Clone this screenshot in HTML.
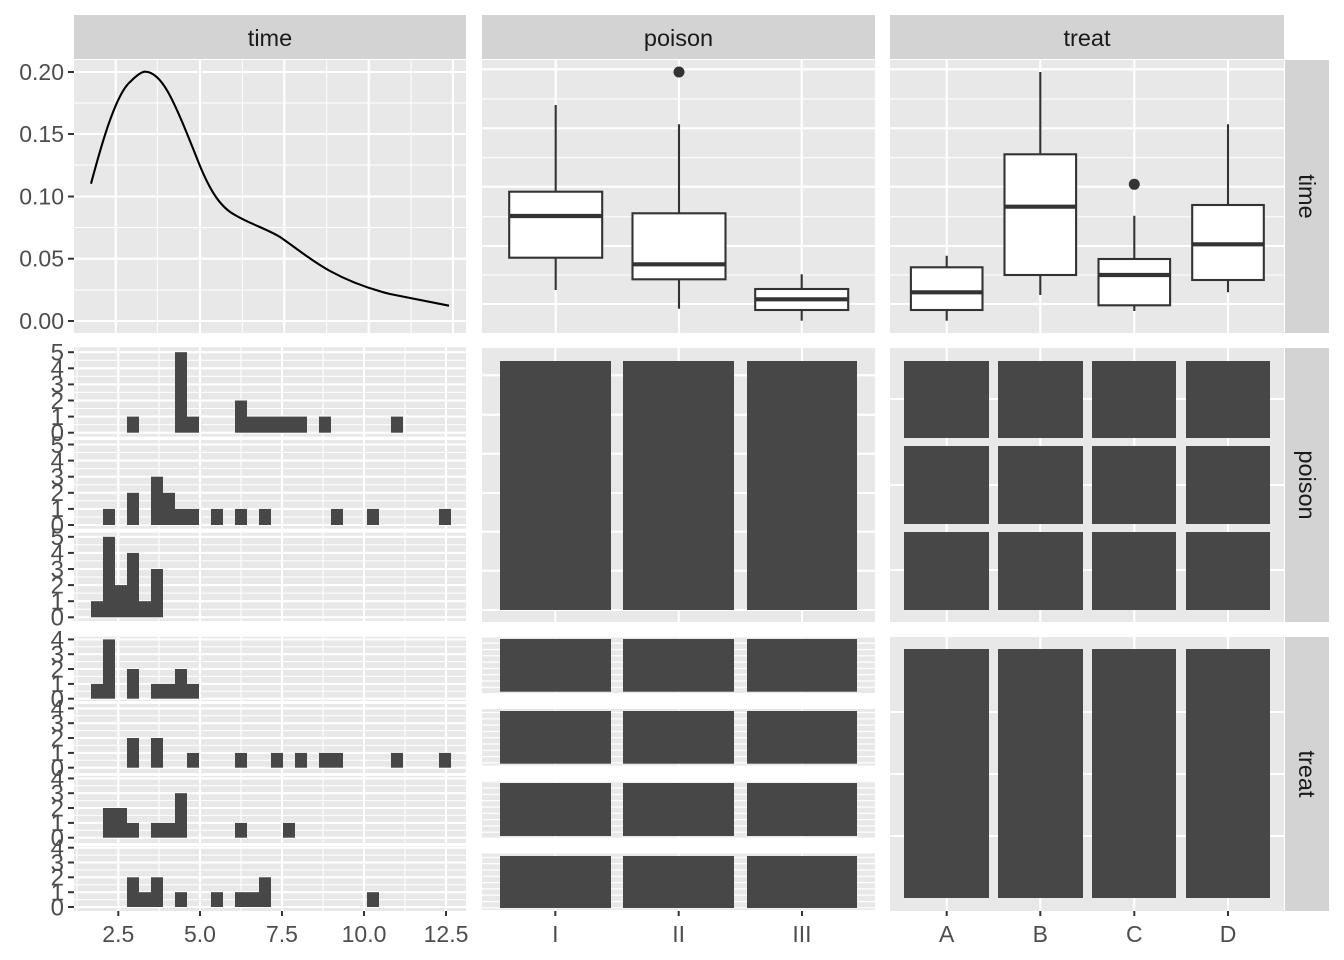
<!DOCTYPE html>
<html><head><meta charset="utf-8"><style>
html,body{margin:0;padding:0;background:#fff;}
svg{display:block;font-family:"Liberation Sans",sans-serif;}
.tk{font-size:23px;fill:#4d4d4d;}
.st{font-size:23.5px;fill:#1a1a1a;}
.bg{fill:#e8e8e8;}
.sp{fill:#d3d3d3;}
.mj{stroke:#fff;stroke-width:2.1;}
.mn{stroke:#fff;stroke-width:1;}
.bar{fill:#474747;}
.tick{stroke:#333;stroke-width:2;}
.box{fill:#fff;stroke:#333;stroke-width:2.1;}
.wh{stroke:#333;stroke-width:2.1;}
.md{stroke:#333;stroke-width:4.2;}
</style></head><body>
<svg width="1344" height="960" viewBox="0 0 1344 960">
<defs>
<pattern id="stripes" x="0" y="0" width="10" height="6.3" patternUnits="userSpaceOnUse">
<rect width="10" height="6.3" fill="#e8e8e8"/><rect y="0" width="10" height="1.2" fill="#fff"/>
</pattern>
</defs>
<rect class="sp" x="74" y="15" width="392" height="44"/>
<rect class="sp" x="482" y="15" width="393" height="44"/>
<rect class="sp" x="890" y="15" width="394" height="44"/>
<text class="st" x="270" y="46" text-anchor="middle">time</text>
<text class="st" x="678.5" y="46" text-anchor="middle">poison</text>
<text class="st" x="1087" y="46" text-anchor="middle">treat</text>
<rect class="sp" x="1285" y="60" width="44" height="273"/>
<rect class="sp" x="1285" y="348" width="44" height="274"/>
<rect class="sp" x="1285" y="637" width="44" height="274"/>
<text class="st" transform="translate(1299,196.5) rotate(90)" text-anchor="middle">time</text>
<text class="st" transform="translate(1299,485) rotate(90)" text-anchor="middle">poison</text>
<text class="st" transform="translate(1299,774) rotate(90)" text-anchor="middle">treat</text>

<rect class="bg" x="74" y="60" width="392" height="273"/>
<g class="mn">
<line x1="74" x2="466" y1="290" y2="290"/><line x1="74" x2="466" y1="227.5" y2="227.5"/><line x1="74" x2="466" y1="165" y2="165"/><line x1="74" x2="466" y1="103" y2="103"/>
<line x1="157.3" x2="157.3" y1="60" y2="333"/><line x1="242.3" x2="242.3" y1="60" y2="333"/><line x1="326.7" x2="326.7" y1="60" y2="333"/><line x1="411" x2="411" y1="60" y2="333"/>
</g>
<g class="mj">
<line x1="74" x2="466" y1="321" y2="321"/><line x1="74" x2="466" y1="258.7" y2="258.7"/><line x1="74" x2="466" y1="196.5" y2="196.5"/><line x1="74" x2="466" y1="134" y2="134"/><line x1="74" x2="466" y1="72" y2="72"/>
<line x1="115.7" x2="115.7" y1="60" y2="333"/><line x1="200" x2="200" y1="60" y2="333"/><line x1="284.3" x2="284.3" y1="60" y2="333"/><line x1="368.7" x2="368.7" y1="60" y2="333"/><line x1="453" x2="453" y1="60" y2="333"/>
</g>
<path fill="none" stroke="#000" stroke-width="2.1" stroke-linejoin="round" d="M91,183.7 C100,150 115,95 130,82 C138,74 142,71.7 145,71.7 C152,71.7 160,78 168,92 C178,110 188,136 200,166 C210,190 220,207 235,215 C250,224 265,228 280,237 C295,247 310,260 330,271 C350,282 370,289 390,294 C410,298 430,302 449,305.7"/>
<g class="tick"><line x1="68" x2="74" y1="321" y2="321"/><line x1="68" x2="74" y1="258.7" y2="258.7"/><line x1="68" x2="74" y1="196.5" y2="196.5"/><line x1="68" x2="74" y1="134" y2="134"/><line x1="68" x2="74" y1="72" y2="72"/></g>
<g class="tk" text-anchor="end">
<text x="64" y="329">0.00</text><text x="64" y="266.7">0.05</text><text x="64" y="204.5">0.10</text><text x="64" y="142">0.15</text><text x="64" y="80">0.20</text>
</g>

<rect class="bg" x="482" y="60" width="393" height="273"/>
<g class="mn"><line x1="482" x2="875" y1="99" y2="99"/><line x1="482" x2="875" y1="157.7" y2="157.7"/><line x1="482" x2="875" y1="216.7" y2="216.7"/><line x1="482" x2="875" y1="275" y2="275"/></g>
<g class="mj"><line x1="482" x2="875" y1="69.3" y2="69.3"/><line x1="482" x2="875" y1="128.3" y2="128.3"/><line x1="482" x2="875" y1="186.7" y2="186.7"/><line x1="482" x2="875" y1="246" y2="246"/><line x1="482" x2="875" y1="304" y2="304"/>
<line x1="555.7" x2="555.7" y1="60" y2="333"/><line x1="679" x2="679" y1="60" y2="333"/><line x1="801.7" x2="801.7" y1="60" y2="333"/></g>
<g class="wh"><line x1="555.7" x2="555.7" y1="105" y2="290"/><line x1="679" x2="679" y1="124.3" y2="308.7"/><line x1="801.7" x2="801.7" y1="274.3" y2="320.7"/></g>
<rect class="box" x="509.2" y="191.7" width="93" height="66"/>
<rect class="box" x="632.5" y="213.3" width="93" height="66"/>
<rect class="box" x="755.2" y="289" width="93" height="21"/>
<g class="md"><line x1="509.2" x2="602.2" y1="216" y2="216"/><line x1="632.5" x2="725.5" y1="264.3" y2="264.3"/><line x1="755.2" x2="848.2" y1="299.3" y2="299.3"/></g>
<circle cx="679" cy="72" r="5.5" fill="#333"/>

<rect class="bg" x="890" y="60" width="394" height="273"/>
<g class="mn"><line x1="890" x2="1284" y1="99" y2="99"/><line x1="890" x2="1284" y1="157.7" y2="157.7"/><line x1="890" x2="1284" y1="216.7" y2="216.7"/><line x1="890" x2="1284" y1="275" y2="275"/></g>
<g class="mj"><line x1="890" x2="1284" y1="69.3" y2="69.3"/><line x1="890" x2="1284" y1="128.3" y2="128.3"/><line x1="890" x2="1284" y1="186.7" y2="186.7"/><line x1="890" x2="1284" y1="246" y2="246"/><line x1="890" x2="1284" y1="304" y2="304"/>
<line x1="946.7" x2="946.7" y1="60" y2="333"/><line x1="1040.3" x2="1040.3" y1="60" y2="333"/><line x1="1134.3" x2="1134.3" y1="60" y2="333"/><line x1="1228" x2="1228" y1="60" y2="333"/></g>
<g class="wh"><line x1="946.7" x2="946.7" y1="255.7" y2="320.7"/><line x1="1040.3" x2="1040.3" y1="72" y2="295"/><line x1="1134.3" x2="1134.3" y1="215.7" y2="311"/><line x1="1228" x2="1228" y1="124.3" y2="292.3"/></g>
<rect class="box" x="910.9" y="267.3" width="71.6" height="42.7"/>
<rect class="box" x="1004.5" y="154.3" width="71.6" height="120.7"/>
<rect class="box" x="1098.5" y="259" width="71.6" height="46.3"/>
<rect class="box" x="1192.2" y="205" width="71.6" height="75"/>
<g class="md"><line x1="910.9" x2="982.5" y1="292.3" y2="292.3"/><line x1="1004.5" x2="1076.1" y1="206.7" y2="206.7"/><line x1="1098.5" x2="1170.1" y1="275" y2="275"/><line x1="1192.2" x2="1263.8" y1="244.3" y2="244.3"/></g>
<circle cx="1134.3" cy="184.3" r="5.5" fill="#333"/>

<rect class="bg" x="74" y="347.3" width="392" height="89.4"/>
<rect class="bg" x="74" y="440" width="392" height="88.7"/>
<rect class="bg" x="74" y="532.7" width="392" height="88.3"/>
<g class="mn">
<line x1="74" x2="466" y1="424.6" y2="424.6"/><line x1="74" x2="466" y1="408.5" y2="408.5"/><line x1="74" x2="466" y1="392.4" y2="392.4"/><line x1="74" x2="466" y1="376.3" y2="376.3"/><line x1="74" x2="466" y1="360.2" y2="360.2"/>
<line x1="74" x2="466" y1="517" y2="517"/><line x1="74" x2="466" y1="500.8" y2="500.8"/><line x1="74" x2="466" y1="484.7" y2="484.7"/><line x1="74" x2="466" y1="468.6" y2="468.6"/><line x1="74" x2="466" y1="452.5" y2="452.5"/>
<line x1="74" x2="466" y1="609.2" y2="609.2"/><line x1="74" x2="466" y1="593.1" y2="593.1"/><line x1="74" x2="466" y1="577" y2="577"/><line x1="74" x2="466" y1="560.9" y2="560.9"/><line x1="74" x2="466" y1="544.8" y2="544.8"/>
</g>
<g class="mn">
<line x1="77" x2="77" y1="347.3" y2="436.7"/><line x1="159" x2="159" y1="347.3" y2="436.7"/><line x1="241" x2="241" y1="347.3" y2="436.7"/><line x1="323" x2="323" y1="347.3" y2="436.7"/><line x1="405" x2="405" y1="347.3" y2="436.7"/>
<line x1="77" x2="77" y1="440" y2="528.7"/><line x1="159" x2="159" y1="440" y2="528.7"/><line x1="241" x2="241" y1="440" y2="528.7"/><line x1="323" x2="323" y1="440" y2="528.7"/><line x1="405" x2="405" y1="440" y2="528.7"/>
<line x1="77" x2="77" y1="532.7" y2="621"/><line x1="159" x2="159" y1="532.7" y2="621"/><line x1="241" x2="241" y1="532.7" y2="621"/><line x1="323" x2="323" y1="532.7" y2="621"/><line x1="405" x2="405" y1="532.7" y2="621"/>
</g>
<g class="mj">
<line x1="74" x2="466" y1="432.7" y2="432.7"/><line x1="74" x2="466" y1="416.6" y2="416.6"/><line x1="74" x2="466" y1="400.5" y2="400.5"/><line x1="74" x2="466" y1="384.4" y2="384.4"/><line x1="74" x2="466" y1="368.3" y2="368.3"/><line x1="74" x2="466" y1="352.2" y2="352.2"/>
<line x1="74" x2="466" y1="525" y2="525"/><line x1="74" x2="466" y1="508.9" y2="508.9"/><line x1="74" x2="466" y1="492.8" y2="492.8"/><line x1="74" x2="466" y1="476.7" y2="476.7"/><line x1="74" x2="466" y1="460.6" y2="460.6"/><line x1="74" x2="466" y1="444.5" y2="444.5"/>
<line x1="74" x2="466" y1="617.3" y2="617.3"/><line x1="74" x2="466" y1="601.2" y2="601.2"/><line x1="74" x2="466" y1="585.1" y2="585.1"/><line x1="74" x2="466" y1="569" y2="569"/><line x1="74" x2="466" y1="552.9" y2="552.9"/><line x1="74" x2="466" y1="536.8" y2="536.8"/>
<line x1="118.3" x2="118.3" y1="347.3" y2="436.7"/><line x1="200" x2="200" y1="347.3" y2="436.7"/><line x1="282" x2="282" y1="347.3" y2="436.7"/><line x1="364" x2="364" y1="347.3" y2="436.7"/><line x1="446" x2="446" y1="347.3" y2="436.7"/>
<line x1="118.3" x2="118.3" y1="440" y2="528.7"/><line x1="200" x2="200" y1="440" y2="528.7"/><line x1="282" x2="282" y1="440" y2="528.7"/><line x1="364" x2="364" y1="440" y2="528.7"/><line x1="446" x2="446" y1="440" y2="528.7"/>
<line x1="118.3" x2="118.3" y1="532.7" y2="621"/><line x1="200" x2="200" y1="532.7" y2="621"/><line x1="282" x2="282" y1="532.7" y2="621"/><line x1="364" x2="364" y1="532.7" y2="621"/><line x1="446" x2="446" y1="532.7" y2="621"/>
</g>
<g class="bar">
<rect x="127" y="416.6" width="12" height="16.1"/><rect x="175" y="352.2" width="12" height="80.5"/><rect x="187" y="416.6" width="12" height="16.1"/><rect x="235" y="400.5" width="12" height="32.2"/><rect x="247" y="416.6" width="60" height="16.1"/><rect x="319" y="416.6" width="12" height="16.1"/><rect x="391" y="416.6" width="12" height="16.1"/>
<rect x="103" y="508.9" width="12" height="16.1"/><rect x="127" y="492.8" width="12" height="32.2"/><rect x="151" y="476.7" width="12" height="48.3"/><rect x="163" y="492.8" width="12" height="32.2"/><rect x="175" y="508.9" width="24" height="16.1"/><rect x="211" y="508.9" width="12" height="16.1"/><rect x="235" y="508.9" width="12" height="16.1"/><rect x="259" y="508.9" width="12" height="16.1"/><rect x="331" y="508.9" width="12" height="16.1"/><rect x="367" y="508.9" width="12" height="16.1"/><rect x="439" y="508.9" width="12" height="16.1"/>
<rect x="91" y="601.2" width="12" height="16.1"/><rect x="103" y="536.8" width="12" height="80.5"/><rect x="115" y="585.1" width="12" height="32.2"/><rect x="127" y="552.9" width="12" height="64.4"/><rect x="139" y="601.2" width="12" height="16.1"/><rect x="151" y="569" width="12" height="48.3"/>
</g>
<g class="tick">
<line x1="68" x2="74" y1="432.7" y2="432.7"/><line x1="68" x2="74" y1="416.6" y2="416.6"/><line x1="68" x2="74" y1="400.5" y2="400.5"/><line x1="68" x2="74" y1="384.4" y2="384.4"/><line x1="68" x2="74" y1="368.3" y2="368.3"/><line x1="68" x2="74" y1="352.2" y2="352.2"/>
<line x1="68" x2="74" y1="525" y2="525"/><line x1="68" x2="74" y1="508.9" y2="508.9"/><line x1="68" x2="74" y1="492.8" y2="492.8"/><line x1="68" x2="74" y1="476.7" y2="476.7"/><line x1="68" x2="74" y1="460.6" y2="460.6"/><line x1="68" x2="74" y1="444.5" y2="444.5"/>
<line x1="68" x2="74" y1="617.3" y2="617.3"/><line x1="68" x2="74" y1="601.2" y2="601.2"/><line x1="68" x2="74" y1="585.1" y2="585.1"/><line x1="68" x2="74" y1="569" y2="569"/><line x1="68" x2="74" y1="552.9" y2="552.9"/><line x1="68" x2="74" y1="536.8" y2="536.8"/>
</g>
<g class="tk" text-anchor="end" style="font-size:24px">
<text x="64" y="441">0</text><text x="64" y="424.9">1</text><text x="64" y="408.8">2</text><text x="64" y="392.7">3</text><text x="64" y="376.6">4</text><text x="64" y="360.5">5</text>
<text x="64" y="533.3">0</text><text x="64" y="517.2">1</text><text x="64" y="501.1">2</text><text x="64" y="485">3</text><text x="64" y="468.9">4</text><text x="64" y="452.8">5</text>
<text x="64" y="625.6">0</text><text x="64" y="609.5">1</text><text x="64" y="593.4">2</text><text x="64" y="577.3">3</text><text x="64" y="561.2">4</text><text x="64" y="545.1">5</text>
</g>

<rect class="bg" x="482" y="348" width="393" height="274"/>
<g class="mj">
<line x1="482" x2="875" y1="375.3" y2="375.3"/><line x1="482" x2="875" y1="414.7" y2="414.7"/><line x1="482" x2="875" y1="453.7" y2="453.7"/><line x1="482" x2="875" y1="493" y2="493"/><line x1="482" x2="875" y1="531.7" y2="531.7"/><line x1="482" x2="875" y1="570.7" y2="570.7"/><line x1="482" x2="875" y1="610" y2="610"/>
<line x1="555.3" x2="555.3" y1="348" y2="622"/><line x1="678.7" x2="678.7" y1="348" y2="622"/><line x1="802" x2="802" y1="348" y2="622"/>
</g>
<g class="bar"><rect x="500" y="361" width="111" height="249"/><rect x="623" y="361" width="111" height="249"/><rect x="747" y="361" width="110" height="249"/></g>

<rect class="bg" x="890" y="348" width="394" height="274"/>
<g class="mj">
<line x1="890" x2="1284" y1="399" y2="399"/><line x1="890" x2="1284" y1="485" y2="485"/><line x1="890" x2="1284" y1="570" y2="570"/>
<line x1="946.7" x2="946.7" y1="348" y2="622"/><line x1="1040.3" x2="1040.3" y1="348" y2="622"/><line x1="1134.3" x2="1134.3" y1="348" y2="622"/><line x1="1228" x2="1228" y1="348" y2="622"/>
</g>
<g class="bar">
<rect x="904" y="361" width="85" height="77"/><rect x="998" y="361" width="85" height="77"/><rect x="1092" y="361" width="84" height="77"/><rect x="1186" y="361" width="84" height="77"/>
<rect x="904" y="446" width="85" height="78"/><rect x="998" y="446" width="85" height="78"/><rect x="1092" y="446" width="84" height="78"/><rect x="1186" y="446" width="84" height="78"/>
<rect x="904" y="532" width="85" height="78"/><rect x="998" y="532" width="85" height="78"/><rect x="1092" y="532" width="84" height="78"/><rect x="1186" y="532" width="84" height="78"/>
</g>

<rect class="bg" x="74" y="636.7" width="392" height="64.3"/>
<rect class="bg" x="74" y="704" width="392" height="69"/>
<rect class="bg" x="74" y="776" width="392" height="67"/>
<rect class="bg" x="74" y="846" width="392" height="65"/>
<g class="mn">
<line x1="74" x2="466" y1="691.3" y2="691.3"/><line x1="74" x2="466" y1="676.4" y2="676.4"/><line x1="74" x2="466" y1="661.6" y2="661.6"/><line x1="74" x2="466" y1="646.8" y2="646.8"/>
<line x1="74" x2="466" y1="760.3" y2="760.3"/><line x1="74" x2="466" y1="745.4" y2="745.4"/><line x1="74" x2="466" y1="730.6" y2="730.6"/><line x1="74" x2="466" y1="715.8" y2="715.8"/>
<line x1="74" x2="466" y1="830.3" y2="830.3"/><line x1="74" x2="466" y1="815.4" y2="815.4"/><line x1="74" x2="466" y1="800.6" y2="800.6"/><line x1="74" x2="466" y1="785.8" y2="785.8"/>
<line x1="74" x2="466" y1="899.6" y2="899.6"/><line x1="74" x2="466" y1="884.7" y2="884.7"/><line x1="74" x2="466" y1="869.9" y2="869.9"/><line x1="74" x2="466" y1="855.1" y2="855.1"/>
<line x1="77" x2="77" y1="636.7" y2="911"/><line x1="159" x2="159" y1="636.7" y2="911"/><line x1="241" x2="241" y1="636.7" y2="911"/><line x1="323" x2="323" y1="636.7" y2="911"/><line x1="405" x2="405" y1="636.7" y2="911"/>
</g>
<g class="mj">
<line x1="74" x2="466" y1="698.7" y2="698.7"/><line x1="74" x2="466" y1="683.9" y2="683.9"/><line x1="74" x2="466" y1="669" y2="669"/><line x1="74" x2="466" y1="654.2" y2="654.2"/><line x1="74" x2="466" y1="639.4" y2="639.4"/>
<line x1="74" x2="466" y1="767.7" y2="767.7"/><line x1="74" x2="466" y1="752.9" y2="752.9"/><line x1="74" x2="466" y1="738" y2="738"/><line x1="74" x2="466" y1="723.2" y2="723.2"/><line x1="74" x2="466" y1="708.4" y2="708.4"/>
<line x1="74" x2="466" y1="837.7" y2="837.7"/><line x1="74" x2="466" y1="822.9" y2="822.9"/><line x1="74" x2="466" y1="808" y2="808"/><line x1="74" x2="466" y1="793.2" y2="793.2"/><line x1="74" x2="466" y1="778.4" y2="778.4"/>
<line x1="74" x2="466" y1="907" y2="907"/><line x1="74" x2="466" y1="892.2" y2="892.2"/><line x1="74" x2="466" y1="877.3" y2="877.3"/><line x1="74" x2="466" y1="862.5" y2="862.5"/><line x1="74" x2="466" y1="847.7" y2="847.7"/>
<line x1="118.3" x2="118.3" y1="636.7" y2="911"/><line x1="200" x2="200" y1="636.7" y2="911"/><line x1="282" x2="282" y1="636.7" y2="911"/><line x1="364" x2="364" y1="636.7" y2="911"/><line x1="446" x2="446" y1="636.7" y2="911"/>
</g>
<rect x="74" y="701" width="392" height="3" fill="#fff"/><rect x="74" y="773" width="392" height="3" fill="#fff"/><rect x="74" y="843" width="392" height="3" fill="#fff"/>
<g class="bar">
<rect x="91" y="683.9" width="12" height="14.8"/><rect x="103" y="639.4" width="12" height="59.3"/><rect x="127" y="669" width="12" height="29.7"/><rect x="151" y="683.9" width="24" height="14.8"/><rect x="175" y="669" width="12" height="29.7"/><rect x="187" y="683.9" width="12" height="14.8"/>
<rect x="127" y="738" width="12" height="29.7"/><rect x="151" y="738" width="12" height="29.7"/><rect x="187" y="752.9" width="12" height="14.8"/><rect x="235" y="752.9" width="12" height="14.8"/><rect x="271" y="752.9" width="12" height="14.8"/><rect x="295" y="752.9" width="12" height="14.8"/><rect x="319" y="752.9" width="24" height="14.8"/><rect x="391" y="752.9" width="12" height="14.8"/><rect x="439" y="752.9" width="12" height="14.8"/>
<rect x="103" y="808" width="24" height="29.7"/><rect x="127" y="822.9" width="12" height="14.8"/><rect x="151" y="822.9" width="24" height="14.8"/><rect x="175" y="793.2" width="12" height="44.5"/><rect x="235" y="822.9" width="12" height="14.8"/><rect x="283" y="822.9" width="12" height="14.8"/>
<rect x="127" y="877.3" width="12" height="29.7"/><rect x="139" y="892.2" width="12" height="14.8"/><rect x="151" y="877.3" width="12" height="29.7"/><rect x="175" y="892.2" width="12" height="14.8"/><rect x="211" y="892.2" width="12" height="14.8"/><rect x="235" y="892.2" width="24" height="14.8"/><rect x="259" y="877.3" width="12" height="29.7"/><rect x="367" y="892.2" width="12" height="14.8"/>
</g>
<g class="tick">
<line x1="68" x2="74" y1="698.7" y2="698.7"/><line x1="68" x2="74" y1="683.9" y2="683.9"/><line x1="68" x2="74" y1="669" y2="669"/><line x1="68" x2="74" y1="654.2" y2="654.2"/><line x1="68" x2="74" y1="639.4" y2="639.4"/>
<line x1="68" x2="74" y1="767.7" y2="767.7"/><line x1="68" x2="74" y1="752.9" y2="752.9"/><line x1="68" x2="74" y1="738" y2="738"/><line x1="68" x2="74" y1="723.2" y2="723.2"/><line x1="68" x2="74" y1="708.4" y2="708.4"/>
<line x1="68" x2="74" y1="837.7" y2="837.7"/><line x1="68" x2="74" y1="822.9" y2="822.9"/><line x1="68" x2="74" y1="808" y2="808"/><line x1="68" x2="74" y1="793.2" y2="793.2"/><line x1="68" x2="74" y1="778.4" y2="778.4"/>
<line x1="68" x2="74" y1="907" y2="907"/><line x1="68" x2="74" y1="892.2" y2="892.2"/><line x1="68" x2="74" y1="877.3" y2="877.3"/><line x1="68" x2="74" y1="862.5" y2="862.5"/><line x1="68" x2="74" y1="847.7" y2="847.7"/>
</g>
<g class="tk" text-anchor="end" style="font-size:24px">
<text x="64" y="707">0</text><text x="64" y="692.2">1</text><text x="64" y="677.3">2</text><text x="64" y="662.5">3</text><text x="64" y="647.7">4</text>
<text x="64" y="776">0</text><text x="64" y="761.2">1</text><text x="64" y="746.3">2</text><text x="64" y="731.5">3</text><text x="64" y="716.7">4</text>
<text x="64" y="846">0</text><text x="64" y="831.2">1</text><text x="64" y="816.3">2</text><text x="64" y="801.5">3</text><text x="64" y="786.7">4</text>
<text x="64" y="915.3">0</text><text x="64" y="900.5">1</text><text x="64" y="885.6">2</text><text x="64" y="870.8">3</text><text x="64" y="856">4</text>
</g>

<rect x="482" y="637" width="393" height="56.3" fill="url(#stripes)"/>
<rect x="482" y="709" width="393" height="56.7" fill="url(#stripes)"/>
<rect x="482" y="781" width="393" height="56.7" fill="url(#stripes)"/>
<rect x="482" y="853.3" width="393" height="56.7" fill="url(#stripes)"/>
<g class="mn">
<line x1="555.3" x2="555.3" y1="637" y2="910"/><line x1="678.7" x2="678.7" y1="637" y2="910"/><line x1="802" x2="802" y1="637" y2="910"/>
</g>
<rect x="482" y="693.3" width="393" height="15.7" fill="#fff"/><rect x="482" y="765.7" width="393" height="15.3" fill="#fff"/><rect x="482" y="837.7" width="393" height="15.6" fill="#fff"/>
<g class="bar">
<rect x="500" y="639" width="111" height="52.7"/><rect x="623" y="639" width="111" height="52.7"/><rect x="747" y="639" width="110" height="52.7"/>
<rect x="500" y="711" width="111" height="52.7"/><rect x="623" y="711" width="111" height="52.7"/><rect x="747" y="711" width="110" height="52.7"/>
<rect x="500" y="783" width="111" height="53"/><rect x="623" y="783" width="111" height="53"/><rect x="747" y="783" width="110" height="53"/>
<rect x="500" y="856" width="111" height="52"/><rect x="623" y="856" width="111" height="52"/><rect x="747" y="856" width="110" height="52"/>
</g>

<rect class="bg" x="890" y="637" width="394" height="274"/>
<g class="mj">
<line x1="890" x2="1284" y1="712" y2="712"/><line x1="890" x2="1284" y1="774" y2="774"/><line x1="890" x2="1284" y1="836" y2="836"/>
<line x1="946.7" x2="946.7" y1="637" y2="911"/><line x1="1040.3" x2="1040.3" y1="637" y2="911"/><line x1="1134.3" x2="1134.3" y1="637" y2="911"/><line x1="1228" x2="1228" y1="637" y2="911"/>
</g>
<g class="bar"><rect x="904" y="649" width="85" height="249"/><rect x="998" y="649" width="85" height="249"/><rect x="1092" y="649" width="84" height="249"/><rect x="1186" y="649" width="84" height="249"/></g>

<g class="tick">
<line x1="118.3" x2="118.3" y1="911" y2="916"/><line x1="200" x2="200" y1="911" y2="916"/><line x1="282" x2="282" y1="911" y2="916"/><line x1="364" x2="364" y1="911" y2="916"/><line x1="446" x2="446" y1="911" y2="916"/>
<line x1="555.3" x2="555.3" y1="911" y2="916"/><line x1="678.7" x2="678.7" y1="911" y2="916"/><line x1="802" x2="802" y1="911" y2="916"/>
<line x1="946.7" x2="946.7" y1="911" y2="916"/><line x1="1040.3" x2="1040.3" y1="911" y2="916"/><line x1="1134.3" x2="1134.3" y1="911" y2="916"/><line x1="1228" x2="1228" y1="911" y2="916"/>
</g>
<g class="tk" text-anchor="middle">
<text x="118.3" y="942">2.5</text><text x="200" y="942">5.0</text><text x="282" y="942">7.5</text><text x="364" y="942">10.0</text><text x="446" y="942">12.5</text>
<text x="555.3" y="942">I</text><text x="678.7" y="942">II</text><text x="802" y="942">III</text>
<text x="946.7" y="942">A</text><text x="1040.3" y="942">B</text><text x="1134.3" y="942">C</text><text x="1228" y="942">D</text>
</g>
</svg>
</body></html>
